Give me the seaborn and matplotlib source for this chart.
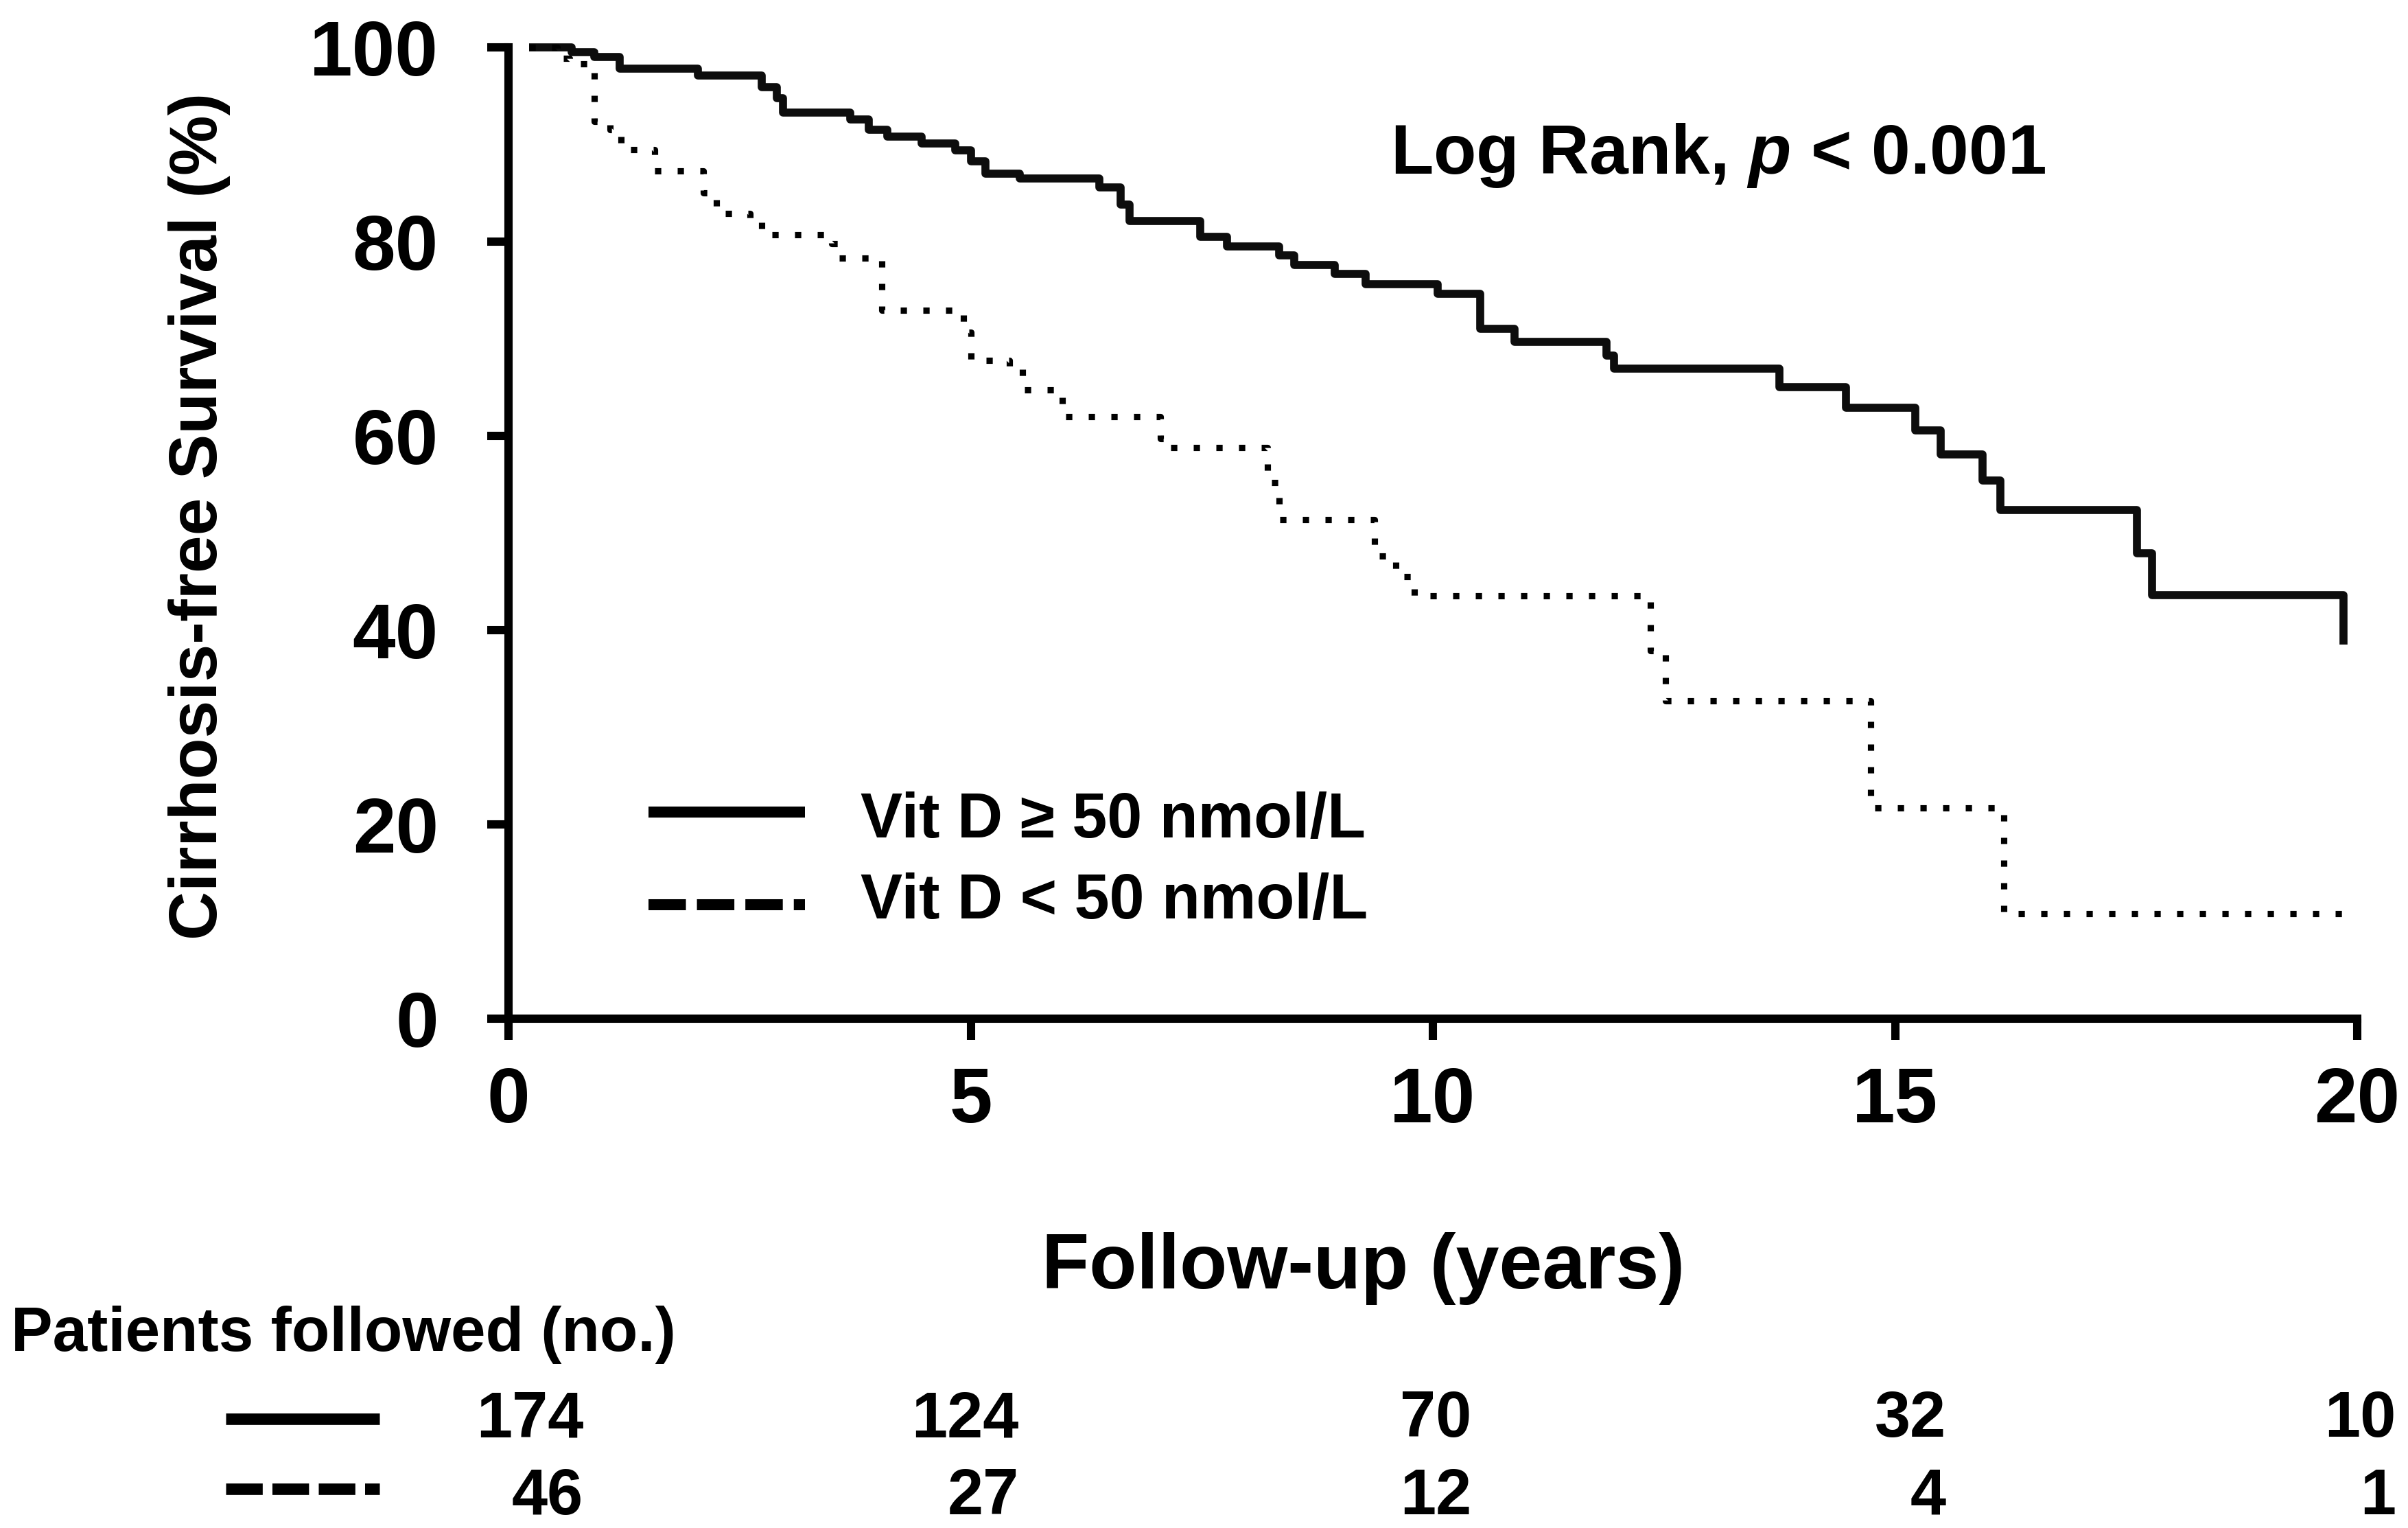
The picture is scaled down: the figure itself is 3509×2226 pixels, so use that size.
import matplotlib
matplotlib.use("Agg")
import matplotlib.pyplot as plt
from matplotlib.lines import Line2D
import pandas as pd
import seaborn as sns

# Kaplan-Meier steps: time (years), survival after event (%)
vitd_high_time = [0.22, 0.68, 0.93, 1.20, 2.05, 2.74, 2.90, 2.97, 3.70, 3.90,
                  4.10, 4.47, 4.83, 5.00, 5.16, 5.53, 6.39, 6.62, 6.72, 7.48,
                  7.77, 8.34, 8.50, 8.94, 9.27, 10.05, 10.51, 10.88, 11.88, 11.96,
                  13.75, 14.47, 15.22, 15.49, 15.95, 16.14, 17.62, 17.78, 19.85]
vitd_high_surv = [100.0, 99.5, 99.0, 97.8, 97.1, 95.9, 94.8, 93.3, 92.6, 91.5,
                  90.8, 90.1, 89.4, 88.3, 87.0, 86.5, 85.6, 83.8, 82.1, 80.5,
                  79.5, 78.6, 77.6, 76.7, 75.6, 74.6, 71.0, 69.7, 68.3, 66.9,
                  65.0, 62.9, 60.6, 58.1, 55.4, 52.4, 47.9, 43.6, 38.5]

vitd_low_time = [0.22, 0.53, 0.66, 0.93, 1.10, 1.22, 1.58, 2.11, 2.25, 2.61,
                 2.74, 3.50, 3.57, 4.04, 4.92, 5.00, 5.42, 5.56, 5.99, 7.05,
                 7.11, 8.21, 8.34, 9.37, 9.60, 9.80, 12.35, 12.52, 14.74, 16.18,
                 19.88]
vitd_low_surv = [100.0, 98.9, 98.3, 92.4, 91.5, 89.5, 87.3, 85.0, 82.9, 82.3,
                 80.7, 79.8, 78.3, 72.9, 70.7, 67.8, 66.9, 64.7, 62.0, 59.7,
                 58.8, 55.2, 51.4, 47.6, 45.5, 43.5, 37.9, 32.7, 21.7, 10.8,
                 10.8]

group_labels = ["Vit D \u2265 50 nmol/L", "Vit D < 50 nmol/L"]

# numbers at risk
risk_high = ["174", "124", "70", "32", "10"]
risk_low = ["46", "27", "12", "4", "1"]
risk_x = [0.81, 5.52, 10.42, 15.55, 20.42]

x_ticks = [0, 5, 10, 15, 20]
y_ticks = [0, 20, 40, 60, 80, 100]

W, H = 3509, 2226


def fx(px):
    return px / W


def fy(py):
    return 1 - py / H


def main():
    sns.set_theme(style="ticks")
    plt.rcParams["font.family"] = ["Liberation Sans", "DejaVu Sans"]
    plt.rcParams["font.weight"] = "bold"
    plt.rcParams["text.color"] = "black"
    plt.rcParams["axes.labelcolor"] = "black"
    plt.rcParams["mathtext.fontset"] = "custom"
    plt.rcParams["mathtext.it"] = "Liberation Sans:bold:italic"
    plt.rcParams["mathtext.rm"] = "Liberation Sans:bold"

    fig = plt.figure(figsize=(W / 300, H / 300), dpi=300)
    fig.patch.set_facecolor("white")
    ax = fig.add_axes([fx(741), fy(1484), fx(3435) - fx(741), fy(69) - fy(1484)])
    ax.set_facecolor("white")

    high = pd.DataFrame({"time": vitd_high_time, "surv": vitd_high_surv})
    low = pd.DataFrame({"time": vitd_low_time, "surv": vitd_low_surv})

    sns.lineplot(data=high, x="time", y="surv", estimator=None, sort=False,
                 drawstyle="steps-post", color="#0d0d0d", linewidth=2.8,
                 clip_on=False, ax=ax)
    sns.lineplot(data=low, x="time", y="surv", estimator=None, sort=False,
                 drawstyle="steps-post", color="black", linewidth=2.2,
                 linestyle=(0, (1, 2.6)), clip_on=False, ax=ax)
    for line in ax.lines:
        line.set_dash_capstyle("butt")
        line.set_solid_capstyle("butt")

    ax.set_xlim(0, 20)
    ax.set_ylim(0, 100)
    ax.set_xticks(x_ticks)
    ax.set_yticks(y_ticks)
    ax.set_xlabel("")
    ax.set_ylabel("")
    sns.despine(ax=ax)
    for side in ["left", "bottom"]:
        ax.spines[side].set_linewidth(2.9)
        ax.spines[side].set_color("black")
    ax.tick_params(axis="both", direction="out", length=7.5, width=2.9,
                   color="black", labelsize=27, labelcolor="black")
    ax.tick_params(axis="y", pad=17)
    ax.tick_params(axis="x", pad=9)

    ax.text(9.54, 87.0, r"Log Rank, $p$ < 0.001", fontsize=24.5,
            fontweight="bold", ha="left", va="baseline")

    # legend inside the plot
    fig.add_artist(Line2D([fx(945), fx(1173)], [fy(1183), fy(1183)],
                          color="black", linewidth=3.85, solid_capstyle="butt"))
    fig.add_artist(Line2D([fx(945), fx(1173)], [fy(1318), fy(1318)],
                          color="black", linewidth=3.85,
                          linestyle=(0, (3.4, 1.0)), dash_capstyle="butt"))
    fig.text(fx(1254), fy(1220), group_labels[0], fontsize=22,
             fontweight="bold", ha="left", va="baseline")
    fig.text(fx(1254), fy(1338), group_labels[1], fontsize=22,
             fontweight="bold", ha="left", va="baseline")

    # axis titles
    fig.text(fx(291), fy(752), "Cirrhosis-free Survival (%)", fontsize=23.6,
             fontweight="bold", rotation=90, ha="center", va="center")
    fig.text(fx(1518), fy(1877), "Follow-up (years)", fontsize=27.2,
             fontweight="bold", ha="left", va="baseline")

    # patients at risk table
    fig.text(fx(16), fy(1968), "Patients followed (no.)", fontsize=21.8,
             fontweight="bold", ha="left", va="baseline")
    fig.add_artist(Line2D([fx(329), fx(553)], [fy(2067), fy(2067)],
                          color="black", linewidth=4.0, solid_capstyle="butt"))
    fig.add_artist(Line2D([fx(329), fx(553)], [fy(2169), fy(2169)],
                          color="black", linewidth=4.0,
                          linestyle=(0, (3.2, 0.85)), dash_capstyle="butt"))
    to_fig = ax.transData + fig.transFigure.inverted()
    for xv, n_hi, n_lo in zip(risk_x, risk_high, risk_low):
        xf = to_fig.transform((xv, 0))[0]
        fig.text(xf, fy(2093), n_hi, fontsize=22.5, fontweight="bold",
                 ha="right", va="baseline")
        fig.text(xf, fy(2206), n_lo, fontsize=22.5, fontweight="bold",
                 ha="right", va="baseline")

    fig.savefig("out.png", dpi=300, facecolor="white")


if __name__ == "__main__":
    main()
